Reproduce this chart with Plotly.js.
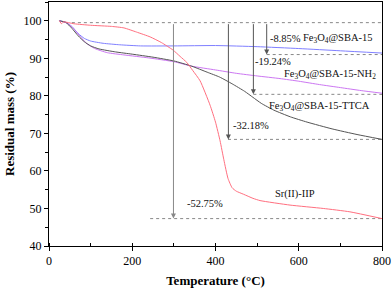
<!DOCTYPE html>
<html>
<head>
<meta charset="utf-8">
<script src="https://cdn.plot.ly/plotly-3.0.1.min.js"></script>
<style>html,body{margin:0;padding:0;background:#fff;}#chart{width:392px;height:290px;}</style>
</head>
<body>
<div id="chart"></div>
<script>
// ---- data ----
const tempBlue = [25, 40, 55, 70, 85, 100, 130, 170, 220, 300, 400, 500, 600, 700, 800];
const massBlue = [100, 99.6, 98.5, 96.6, 95.3, 94.6, 94.0, 93.6, 93.3, 93.3, 93.4, 93.1, 92.6, 92.0, 91.4];

const tempPurple = [25, 45, 60, 75, 90, 110, 140, 180, 240, 300, 343, 400, 450, 500, 555, 600, 650, 700, 750, 800];
const massPurple = [100, 99.3, 97.8, 95.8, 94.0, 92.6, 91.5, 90.9, 90.1, 89.1, 87.9, 86.9, 86.0, 85.3, 84.6, 83.9, 83.0, 82.2, 81.4, 80.7];

const tempBlack = [25, 40, 55, 70, 85, 100, 120, 160, 200, 250, 300, 343, 380, 410, 440, 470, 490, 510, 540, 580, 620, 680, 740, 800];
const massBlack = [100, 99.6, 98.0, 96.0, 94.4, 93.3, 92.5, 91.7, 91.1, 90.3, 89.3, 87.9, 86.3, 85.0, 83.2, 81.2, 79.6, 78.0, 76.2, 74.4, 73.0, 71.2, 69.7, 68.4];

const tempRed = [25, 30, 35, 60, 100, 150, 180, 210, 243, 270, 298, 315, 331, 345, 363, 387, 400, 411, 420, 430, 440, 450, 467, 490, 507, 579, 659, 723, 800];
const massRed = [100, 99.2, 99.7, 99.2, 98.8, 98.5, 98.1, 97.0, 95.7, 94.2, 92.2, 90.5, 88.9, 86.8, 84.0, 77.5, 73.0, 68.0, 63.0, 58.0, 55.5, 54.6, 53.8, 52.7, 52.1, 50.9, 50.0, 49.1, 47.3];

const seriesNames = ['Fe<sub>3</sub>O<sub>4</sub>@SBA-15', 'Fe<sub>3</sub>O<sub>4</sub>@SBA-15-NH<sub>2</sub>', 'Fe<sub>3</sub>O<sub>4</sub>@SBA-15-TTCA', 'Sr(II)-IIP'];
const nameRightX = [783, 790, 776, 644];
const nameY = [95.3, 85.8, 77.1, 53.8];

// mass-loss levels and arrows
const startLevel = 99.5;
const startLevelX = [55, 800];
const lossLabels = ['-8.85%', '-19.24%', '-32.18%', '-52.75%'];
const lossLevel = [91.0, 80.4, 68.4, 47.3];
const levelStartX = [523, 491, 430, 243];
const arrowX = [523, 491, 431, 299];
const lossLabelX = [526, 491, 437, 327];
const lossLabelY = [95.3, 89.1, 72.2, 51.3];

const xTicks = [0, 200, 400, 600, 800];
const yTicks = [40, 50, 60, 70, 80, 90, 100];

// ---- build ----
const font = 'Liberation Serif, Times New Roman, serif';
const colors = ['#7f7fff', '#cc77f2', '#555555', '#ff6f7f'];
const traces = [];
traces.push({x: startLevelX, y: [startLevel, startLevel], mode: 'lines', line: {color: '#888', width: 1, dash: 'dot'}, hoverinfo: 'skip'});
for (let i = 0; i < lossLevel.length; i++) {
  traces.push({x: [levelStartX[i], 800], y: [lossLevel[i], lossLevel[i]], mode: 'lines', line: {color: '#888', width: 1, dash: 'dot'}, hoverinfo: 'skip'});
}
const xs = [tempBlue, tempPurple, tempBlack, tempRed];
const ys = [massBlue, massPurple, massBlack, massRed];
for (let i = 0; i < 4; i++) {
  traces.push({x: xs[i], y: ys[i], mode: 'lines', line: {color: colors[i], width: 1, shape: 'spline', smoothing: 0.5}, name: seriesNames[i]});
}

const annotations = [];
for (let i = 0; i < lossLevel.length; i++) {
  annotations.push({x: arrowX[i], y: lossLevel[i], ax: arrowX[i], ay: startLevel, xref: 'x', yref: 'y', axref: 'x', ayref: 'y',
    text: '', showarrow: true, arrowhead: 2, arrowsize: 1, arrowwidth: 1, arrowcolor: i === 3 ? '#888' : '#555'});
  annotations.push({x: lossLabelX[i], y: lossLabelY[i], xref: 'x', yref: 'y', text: lossLabels[i], showarrow: false,
    xanchor: 'left', yanchor: 'middle', font: {family: font, size: 10.5, color: '#111'}});
}
for (let i = 0; i < 4; i++) {
  annotations.push({x: nameRightX[i], y: nameY[i], xref: 'x', yref: 'y', text: seriesNames[i], showarrow: false,
    xanchor: 'right', yanchor: 'middle', font: {family: font, size: 10.5, color: '#111'}});
}

const layout = {
  width: 392, height: 290,
  margin: {l: 49, r: 10, t: 2, b: 44},
  paper_bgcolor: '#fff', plot_bgcolor: '#fff',
  showlegend: false,
  font: {family: font, size: 12, color: '#000'},
  xaxis: {
    range: [0, 800], tickvals: xTicks, ticktext: xTicks.map(String),
    showgrid: false, zeroline: false, showline: true, mirror: true, linecolor: '#000', linewidth: 1,
    ticks: 'outside', ticklen: 4, tickcolor: '#000',
    minor: {dtick: 100, ticks: 'inside', ticklen: 3, tickcolor: '#000', showgrid: false},
    tickfont: {family: font, size: 12},
    title: {text: '<b>Temperature (°C)</b>', font: {family: font, size: 13}, standoff: 8}
  },
  yaxis: {
    range: [40, 105], tickvals: yTicks, ticktext: yTicks.map(String),
    showgrid: false, zeroline: false, showline: true, mirror: true, linecolor: '#000', linewidth: 1,
    ticks: 'outside', ticklen: 4, tickcolor: '#000',
    minor: {dtick: 5, ticks: 'outside', ticklen: 3, tickcolor: '#000', showgrid: false},
    tickfont: {family: font, size: 12},
    title: {text: '<b>Residual mass (%)</b>', font: {family: font, size: 13}, standoff: 6}
  },
  annotations: annotations
};
Plotly.newPlot('chart', traces, layout, {displayModeBar: false, staticPlot: true});
</script>
</body>
</html>
